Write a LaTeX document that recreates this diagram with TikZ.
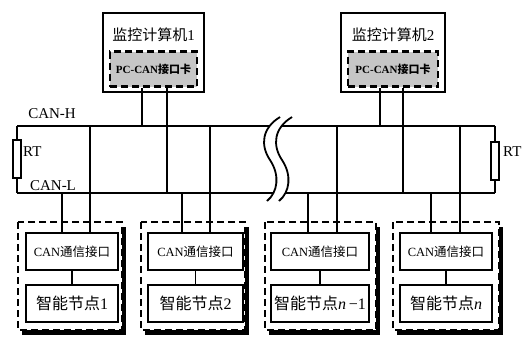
\documentclass[tikz,border=0pt]{standalone}
\usepackage{fontspec}
\setmainfont{Liberation Serif}
\newfontfamily\cjk{Noto Sans CJK SC}
\tikzset{
  wire/.style={line width=1.8pt},
  box/.style={draw, line width=1.8pt, fill=white, inner sep=0pt, minimum height=37pt},
  pcbox/.style={draw, line width=1.8pt, fill=white, inner sep=0pt, minimum width=101pt, minimum height=79pt},
  card/.style={draw, line width=2.6pt, dash pattern=on 7pt off 4pt, fill=gray!45, inner sep=0pt, minimum height=35pt, font=\fontsize{11}{13}\selectfont\bfseries},
  outer/.style={line width=2.6pt, dash pattern=on 7pt off 4pt},
  res/.style={draw, line width=1.8pt, fill=white, inner sep=0pt, minimum width=8pt, minimum height=38pt},
  lbl/.style={inner sep=0pt, font=\fontsize{15}{18}\selectfont},
  cantxt/.style={font=\fontsize{12.5}{15}\selectfont},
  nodetxt/.style={font=\fontsize{16}{19}\selectfont},
}
\begin{document}
\begin{tikzpicture}[x=1pt,y=-1pt]
\useasboundingbox (0,0) rectangle (526,338);
% computers
\node[pcbox, minimum width=101pt] (pc1) at (153.5,52.5) {};
\node[lbl] (pc1t) at (153.5,35) {{\cjk 监控计算机}1};
\node[card, minimum width=87pt] (card1) at (153.5,69) {PC-CAN{\cjk 接口卡}};
\node[pcbox, minimum width=104pt] (pc2) at (393,52.5) {};
\node[lbl] (pc2t) at (393,35) {{\cjk 监控计算机}2};
\node[card, minimum width=90pt] (card2) at (393,69) {PC-CAN{\cjk 接口卡}};
% bus
\coordinate (hL) at (17,126); \coordinate (hR) at (495,126);
\coordinate (lL) at (17,193); \coordinate (lR) at (495,193);
\draw[wire] (hL) -- (hR);
\draw[wire] (lL) -- (lR);
\draw[wire] (hL) -- (lL);
\draw[wire] (hR) -- (lR);
\node[res] (rt1) at (17,159) {};
\node[res] (rt2) at (495,161) {};
\node[lbl, anchor=west] (rt1t) at (23,152) {RT};
\node[lbl, anchor=west] (rt2t) at (503,152) {RT};
\node[lbl] (canh) at (52,114) {CAN-H};
\node[lbl] (canl) at (53,186) {CAN-L};
% break symbol
\fill[white] (280,117) .. controls (262,128) and (260,145) .. (270,160) .. controls (280,175) and (278,192) .. (267,201) -- (279,201) .. controls (290,192) and (292,175) .. (282,160) .. controls (272,145) and (274,128) .. (292,117) -- cycle;
\draw[wire] (280,117) .. controls (262,128) and (260,145) .. (270,160) .. controls (280,175) and (278,192) .. (267,201);
\draw[wire] (292,117) .. controls (274,128) and (272,145) .. (282,160) .. controls (292,175) and (290,192) .. (279,201);
% outer dashed node boxes with shadow
\foreach \xa/\xb in {18/122, 141/245, 265/376, 393/499}{
  \fill[black] (\xa+4,227) rectangle (\xb+4,335);
  \fill[white] (\xa,222) rectangle (\xb,330);
  \draw[outer] (\xa,222) rectangle (\xb,330);
}
% inner boxes
\node[box, minimum width=92pt, cantxt] (n1c) at (72,251.5) {CAN{\cjk 通信接口}};
\node[box, minimum width=92pt, nodetxt] (n1n) at (72,303.5) {{\cjk 智能节点}1};
\node[box, minimum width=95pt, cantxt] (n2c) at (195.5,251.5) {CAN{\cjk 通信接口}};
\node[box, minimum width=95pt, nodetxt] (n2n) at (195.5,303.5) {{\cjk 智能节点}2};
\node[box, minimum width=98pt, cantxt] (n3c) at (320,251.5) {CAN{\cjk 通信接口}};
\node[box, minimum width=98pt, nodetxt] (n3n) at (320,303.5) {{\cjk 智能节点}\textit{n}\,−1};
\node[box, minimum width=92pt, cantxt] (n4c) at (446,251.5) {CAN{\cjk 通信接口}};
\node[box, minimum width=92pt, nodetxt] (n4n) at (446,303.5) {{\cjk 智能节点}\textit{n}};
\draw[wire] (n1c) -- (n1n);
\draw[wire] (n2c) -- (n2n);
\draw[wire] (n3c) -- (n3n);
\draw[wire] (n4c) -- (n4n);
% drops from bus to nodes
\foreach \n/\a/\b in {n1c/62/90, n2c/182/210, n3c/308/337, n4c/431/460}{
  \draw[wire] (\a,193) -- (\a,0 |- \n.north);
  \draw[wire] (\b,126) -- (\b,0 |- \n.north);
}
% computer card connections
\draw[wire] (card1.south -| 142,0) -- (142,126);
\draw[wire] (card1.south -| 167,0) -- (167,193);
\draw[wire] (card2.south -| 380,0) -- (380,126);
\draw[wire] (card2.south -| 403,0) -- (403,193);
\end{tikzpicture}
\end{document}
